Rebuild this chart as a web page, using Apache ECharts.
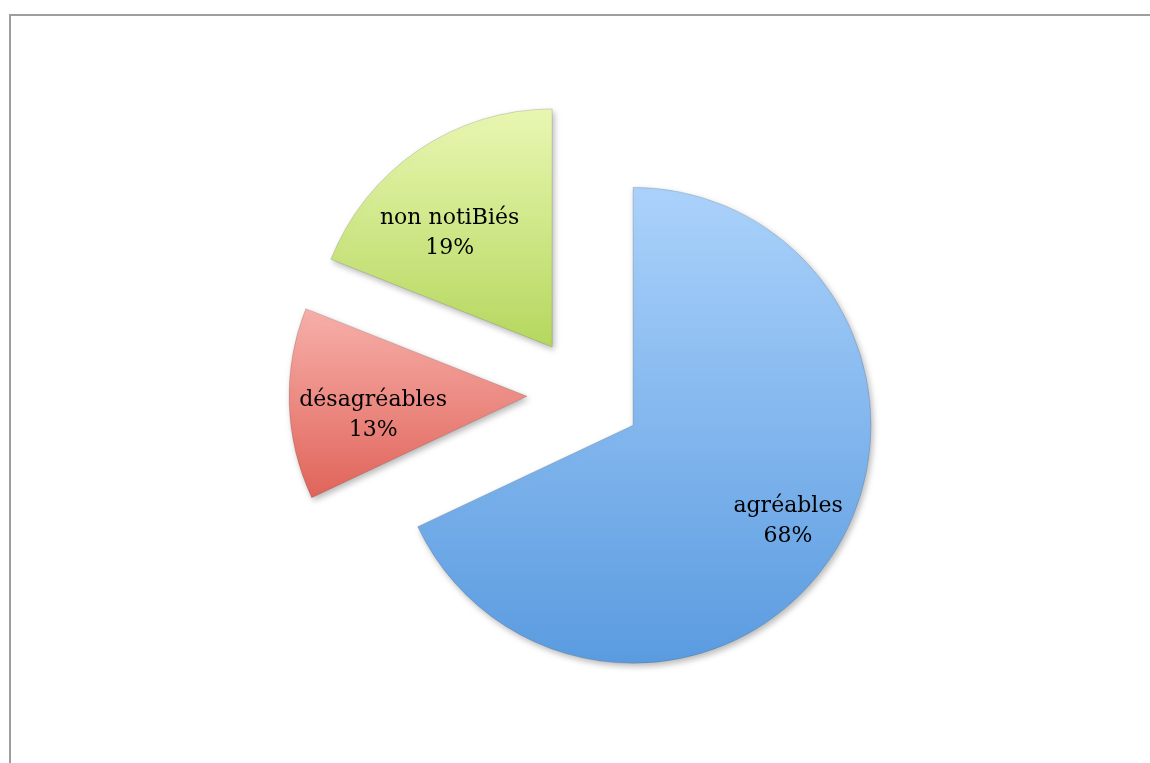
<!DOCTYPE html>
<html>
<head>
<meta charset="utf-8">
<script src="https://cdn.jsdelivr.net/npm/echarts@6/dist/echarts.min.js"></script>
<style>
html,body{margin:0;padding:0;background:#fff;}
#chart{width:1150px;height:763px;}
</style>
</head>
<body>
<div id="chart"></div>
<script>
const categories = ['agréables', 'désagréables', 'non notiBiés'];
const values = [68, 13, 19];

const fills = [
  ['#abd2fb', '#5a9be0'],
  ['#f7b0aa', '#e0645a'],
  ['#e9f7b2', '#b5d75e']
];
const labelShift = [[52, 31], [-32, 15], [-34, -13]];

const chart = echarts.init(document.getElementById('chart'), null, {renderer: 'canvas'});

const data = categories.map((name, i) => ({
  name: name,
  value: values[i],
  selected: true,
  itemStyle: {
    color: new echarts.graphic.LinearGradient(0, 0, 0, 1, [
      {offset: 0, color: fills[i][0]},
      {offset: 1, color: fills[i][1]}
    ])
  }
}));

chart.setOption({
  animation: false,
  backgroundColor: '#ffffff',
  graphic: [{
    type: 'rect',
    shape: {x: 10, y: 15, width: 1200, height: 800},
    style: {fill: 'none', stroke: '#9e9e9e', lineWidth: 2},
    silent: true
  }],
  series: [{
    type: 'pie',
    center: [584.5, 394.5],
    radius: [0, 238],
    startAngle: 90,
    clockwise: true,
    selectedMode: 'multiple',
    selectedOffset: 57.5,
    avoidLabelOverlap: false,
    data: data,
    itemStyle: {
      borderColor: 'rgba(60,60,60,0.18)',
      borderWidth: 1,
      shadowBlur: 6,
      shadowOffsetX: 2,
      shadowOffsetY: 3,
      shadowColor: 'rgba(0,0,0,0.28)'
    },
    select: {
      itemStyle: {
        borderColor: 'rgba(60,60,60,0.18)',
        borderWidth: 1
      }
    },
    emphasis: {disabled: true},
    label: {
      show: true,
      position: 'inside',
      formatter: '{b}\n{d}%',
      fontFamily: 'DejaVu Serif',
      fontSize: 22,
      lineHeight: 30,
      color: '#000000',
      align: 'center'
    },
    labelLine: {show: false},
    labelLayout: function (params) {
      const s = labelShift[params.dataIndex];
      return {dx: s[0], dy: s[1]};
    }
  }]
});
</script>
</body>
</html>
